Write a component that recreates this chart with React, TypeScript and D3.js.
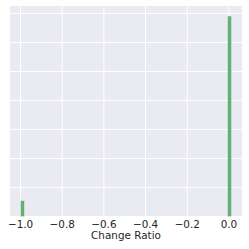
import * as d3 from "d3";
import { useEffect, useRef } from "react";

// histogram bins (start of bin, count); bin width in ratio units
const binWidth = 0.0184;
const binStarts = [-1.0, -0.0064];
const binCounts = [545, 6910];
const xTicks = [-1.0, -0.8, -0.6, -0.4, -0.2, 0.0];
const yTicks = [0, 1000, 2000, 3000, 4000, 5000, 6000, 7000];
const xLabel = "Change Ratio";

const W = 249;
const H = 249;
const margin = { top: 6, right: 7, bottom: 32.5, left: 10 };

const App = () => {
  const ref = useRef<SVGSVGElement>(null);

  useEffect(() => {
    const svg = d3.select(ref.current);
    svg.selectAll("*").remove();

    const xMin = d3.min(binStarts) as number;
    const xMax = (d3.max(binStarts) as number) + binWidth;
    const pad = (xMax - xMin) * 0.05;
    const x = d3
      .scaleLinear()
      .domain([xMin - pad, xMax + pad])
      .range([margin.left, W - margin.right]);
    const y = d3
      .scaleLinear()
      .domain([0, (d3.max(binCounts) as number) * 1.05])
      .range([H - margin.bottom, margin.top]);

    svg
      .append("rect")
      .attr("x", margin.left)
      .attr("y", margin.top)
      .attr("width", W - margin.left - margin.right)
      .attr("height", H - margin.top - margin.bottom)
      .attr("fill", "#eaeaf2");

    svg
      .append("g")
      .selectAll("line")
      .data(xTicks)
      .join("line")
      .attr("x1", (d) => x(d))
      .attr("x2", (d) => x(d))
      .attr("y1", margin.top)
      .attr("y2", H - margin.bottom)
      .attr("stroke", "#fff")
      .attr("stroke-width", 1);

    svg
      .append("g")
      .selectAll("line")
      .data(yTicks)
      .join("line")
      .attr("x1", margin.left)
      .attr("x2", W - margin.right)
      .attr("y1", (d) => y(d))
      .attr("y2", (d) => y(d))
      .attr("stroke", "#fff")
      .attr("stroke-width", 1);

    const bins = binStarts.map((s, i) => ({ s, c: binCounts[i] }));
    svg
      .append("g")
      .selectAll("rect")
      .data(bins)
      .join("rect")
      .attr("x", (d) => x(d.s))
      .attr("width", (d) => x(d.s + binWidth) - x(d.s))
      .attr("y", (d) => y(d.c))
      .attr("height", (d) => y(0) - y(d.c))
      .attr("fill", "#55a868")
      .attr("fill-opacity", 0.9)
      .attr("stroke", "#eaf2ec")
      .attr("stroke-width", 0.4);

    svg
      .append("g")
      .attr("font-family", "DejaVu Sans")
      .attr("font-size", 10.4)
      .attr("fill", "#262626")
      .attr("text-anchor", "middle")
      .selectAll("text")
      .data(xTicks)
      .join("text")
      .attr("x", (d) => x(d))
      .attr("y", H - margin.bottom + 11.8)
      .text((d) => d.toFixed(1).replace("-", "\u2212"));

    svg
      .append("text")
      .attr("x", (margin.left + W - margin.right) / 2)
      .attr("y", H - 10)
      .attr("text-anchor", "middle")
      .attr("font-family", "DejaVu Sans")
      .attr("font-size", 10.4)
      .attr("fill", "#262626")
      .text(xLabel);
  }, []);

  return (
    <svg
      ref={ref}
      width={W}
      height={H}
      style={{ position: "absolute", left: 0, top: 0, background: "#fff" }}
    />
  );
};

export default App;
